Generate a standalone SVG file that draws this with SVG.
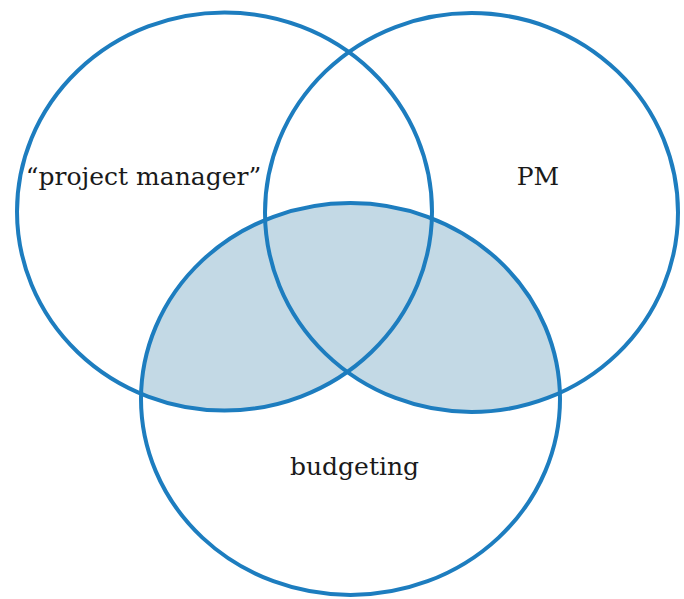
<svg xmlns="http://www.w3.org/2000/svg" width="684" height="599" viewBox="0 0 684 599">
<style>
.ring{fill:none;stroke:#1d7dbf;stroke-width:4}
.shade{fill:#c3d9e5}
.lbl{font-family:"DejaVu Serif","Liberation Serif",serif;font-size:25px;fill:#1a1a1a;text-anchor:middle}
</style>
<defs>
<clipPath id="clipBottom"><ellipse cx="350.5" cy="399" rx="209.5" ry="196"/></clipPath>
</defs>
<rect width="684" height="599" fill="#ffffff"/>
<g id="shaded" clip-path="url(#clipBottom)">
<ellipse class="shade" cx="224.5" cy="211.5" rx="207.5" ry="199"/>
<ellipse class="shade" cx="471.5" cy="212.5" rx="206.5" ry="199.5"/>
</g>
<g id="node-project-manager">
<ellipse class="ring" cx="224.5" cy="211.5" rx="207.5" ry="199"/>
<text class="lbl" x="143.5" y="185">“project manager”</text>
</g>
<g id="node-pm">
<ellipse class="ring" cx="471.5" cy="212.5" rx="206.5" ry="199.5"/>
<text class="lbl" x="538" y="185">PM</text>
</g>
<g id="node-budgeting">
<ellipse class="ring" cx="350.5" cy="399" rx="209.5" ry="196"/>
<text class="lbl" x="354.5" y="475">budgeting</text>
</g>
<g id="connectors"/>
</svg>
